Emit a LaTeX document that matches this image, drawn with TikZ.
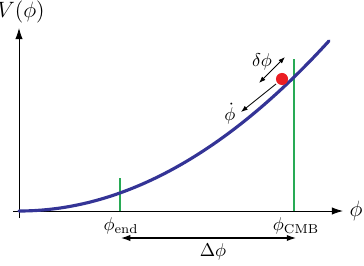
\documentclass[tikz,border=0pt]{standalone}
\usepackage{amsmath,amssymb}
\usepackage{xcolor}
\usepackage{tikz}
\usetikzlibrary{arrows.meta}

\definecolor{potblue}{RGB}{52,52,150}
\definecolor{markgreen}{RGB}{40,170,85}
\definecolor{dotred}{RGB}{235,30,35}

\begin{document}
\begin{tikzpicture}[
    x=0.019cm, y=-0.019cm,
    axis/.style={line width=0.5pt, -{Latex[length=6pt, width=4pt]}},
    potential/.style={potblue, line width=1.7pt, line cap=round},
    marker/.style={markgreen, line width=1pt},
    span/.style={line width=0.6pt, {Latex[length=5pt, width=3.4pt]}-{Latex[length=5pt, width=3.4pt]}},
    kick/.style={line width=0.45pt, >={Latex[length=3.6pt, width=2.6pt]}},
    ball/.style={circle, fill=dotred, inner sep=0pt, minimum size=0.23cm},
    axislabel/.style={inner sep=1pt, font=\large}
]
\useasboundingbox (0,0) rectangle (364,265);

% Axes
\coordinate (origin) at (19,211);
\coordinate (ybot) at (19,218);
\coordinate (ytop) at (19,28);
\coordinate (xleft) at (13,211);
\coordinate (xright) at (343,211);
\draw[axis] (ybot) -- (ytop);
\draw[axis] (xleft) -- (xright);
\node[axislabel] (vlabel) at (21,12) {$V(\phi)$};
\node[axislabel] (philabel) at (356,211) {$\phi$};

% Field values
\coordinate (endtop) at (120,178);
\coordinate (endbot) at (120,211);
\coordinate (cmbtop) at (294,59);
\coordinate (cmbbot) at (294,211);
\draw[marker] (endbot) -- (endtop);
\draw[marker] (cmbbot) -- (cmbtop);
\node (phiend) at (121,226) {$\phi_{\text{end}}$};
\node (phicmb) at (296,226) {$\phi_{\text{CMB}}$};

% Potential
\draw[potential] plot[domain=19:329, samples=60, smooth] (\x, {211-17.7*((\x-19)/100)^2});

% Field and its motion
\node[ball] (field) at (282,79) {};
\coordinate (dphia) at (259,83);
\coordinate (dphib) at (285,57);
\draw[kick, <->] (dphia) -- (dphib);
\node (dphi) at (262,62) {$\delta\phi$};
\coordinate (rolla) at (276,84);
\coordinate (rollb) at (241,112);
\draw[kick, ->] (rolla) -- (rollb);
\node[inner sep=1pt] (phidot) at (230,114) {$\dot\phi$};

% Range
\coordinate (spana) at (121,238);
\coordinate (spanb) at (296,238);
\draw[span] (spana) -- (spanb);
\node (dphitot) at (213,252) {$\Delta\phi$};

\end{tikzpicture}
\end{document}
